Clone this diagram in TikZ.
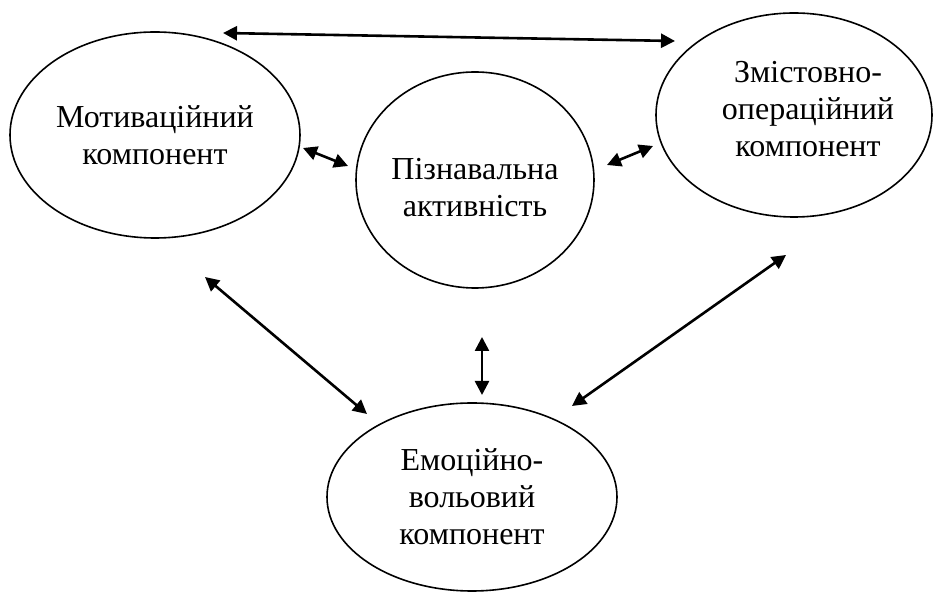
\documentclass[tikz,border=0pt]{standalone}
\usepackage{fontspec}
\setmainfont{Liberation Serif}
\usetikzlibrary{arrows.meta}
\usetikzlibrary{shapes.geometric}

\tikzset{
  comptext/.style={align=center, font=\fontsize{16}{18.5}\selectfont},
  comp/.style={draw, ellipse, line width=0.8pt, inner sep=0pt, comptext},
  link/.style={{Triangle[length=7pt,width=7pt]}-{Triangle[length=7pt,width=7pt]}, line width=1.3pt},
}

\begin{document}
\begin{tikzpicture}[x=0.5pt, y=-0.5pt]

    \useasboundingbox (0,0) rectangle (933,592);

    % components
    \node[comp, minimum width=145pt, minimum height=103pt] (mot) at (155,135) {Мотиваційний\\компонент};
    \node[comp, minimum width=119pt, minimum height=108pt,
          label={[comptext, yshift=-4pt]center:{Пізнавальна\\активність}}] (piz) at (475,180) {};
    \node[comp, minimum width=138pt, minimum height=102pt,
          label={[comptext, xshift=7pt, yshift=3pt]center:{Змістовно-\\операційний\\компонент}}] (zmi) at (794,115) {};
    \node[comp, minimum width=145pt, minimum height=94pt] (emo) at (472,497) {Емоційно-\\вольовий\\компонент};

    % links
    \draw[link] ([shift={(68,-102)}]mot.center) -- ([shift={(-119,-74)}]zmi.center);
    \draw[link] ([shift={(148,13)}]mot.center) -- ([shift={(-127,-14)}]piz.center);
    \draw[link] ([shift={(132,-15)}]piz.center) -- ([shift={(-141,31)}]zmi.center);
    \draw[link] ([shift={(50,142)}]mot.center) -- ([shift={(-105,-83)}]emo.center);
    \draw[link] ([shift={(7,157)}]piz.center) -- ([shift={(10,-102)}]emo.center);
    \draw[link] ([shift={(-8,140)}]zmi.center) -- ([shift={(100,-91)}]emo.center);

\end{tikzpicture}
\end{document}
